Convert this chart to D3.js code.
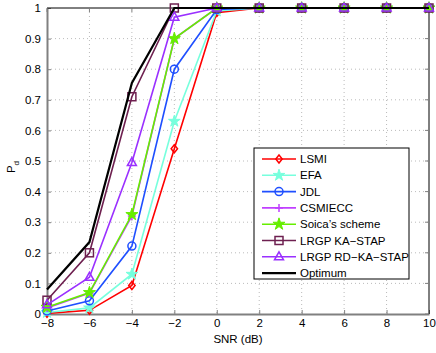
<!DOCTYPE html>
<html><head><meta charset="utf-8">
<script src="https://cdn.jsdelivr.net/npm/d3@7"></script>
<style>body{margin:0;background:#fff}svg{display:block;font-family:"Liberation Sans",Arial,sans-serif}</style>
</head><body><svg id="c" width="436" height="353"></svg>
<script>
const snr = [-8,-6,-4,-2,0,2,4,6,8,10];
const lsmi    = [0.002,0.012,0.093,0.54,0.985,1,1,1,1,1];
const efa     = [0.005,0.02,0.13,0.63,0.99,1,1,1,1,1];
const jdl     = [0.01,0.043,0.222,0.80,0.995,1,1,1,1,1];
const csmiecc = [0.02,0.068,0.32,0.90,1,1,1,1,1,1];
const soica   = [0.022,0.07,0.325,0.90,1,1,1,1,1,1];
const lrgpKa  = [0.045,0.20,0.71,1.0,1,1,1,1,1,1];
const lrgpRd  = [0.03,0.12,0.495,0.97,1,1,1,1,1,1];
const optimum = [0.08,0.235,0.755,1.0,1,1,1,1,1,1];
const xTicks = [-8,-6,-4,-2,0,2,4,6,8,10];
const yTicks = [0,0.1,0.2,0.3,0.4,0.5,0.6,0.7,0.8,0.9,1];

const series = [
  {name:"LSMI", v:lsmi, color:"#ff0000", m:"diamond"},
  {name:"EFA", v:efa, color:"#77ffdd", m:"star"},
  {name:"JDL", v:jdl, color:"#1f4fff", m:"circle"},
  {name:"CSMIECC", v:csmiecc, color:"#c040ff", m:"plus"},
  {name:"Soica\u2019s scheme", v:soica, color:"#66ee00", m:"hex"},
  {name:"LRGP KA\u2212STAP", v:lrgpKa, color:"#6e2050", m:"square"},
  {name:"LRGP RD\u2212KA\u2212STAP", v:lrgpRd, color:"#9a30ff", m:"triangle"},
  {name:"Optimum", v:optimum, color:"#000000", m:null}
];

const svg = d3.select("#c");
const L=47, R=429, T=8, B=314;
const x = d3.scaleLinear().domain([-8,10]).range([L,R]);
const y = d3.scaleLinear().domain([0,1]).range([B,T]);

const g = svg.append("g");
xTicks.forEach(t=>{ if(t>-8&&t<10) g.append("line").attr("x1",x(t)).attr("x2",x(t)).attr("y1",T).attr("y2",B)
  .attr("stroke","#aaa").attr("stroke-width",0.8).attr("stroke-dasharray","1,3");});
yTicks.forEach(t=>{ if(t>0&&t<1) g.append("line").attr("x1",L).attr("x2",R).attr("y1",y(t)).attr("y2",y(t))
  .attr("stroke","#aaa").attr("stroke-width",0.8).attr("stroke-dasharray","1,3");});

const xa = svg.append("g").attr("transform",`translate(0,${B})`)
  .call(d3.axisBottom(x).tickValues(xTicks).tickSizeInner(-4).tickSizeOuter(0).tickPadding(5).tickFormat(d=>String(d).replace("-","\u2212")));
const ya = svg.append("g").attr("transform",`translate(${L},0)`)
  .call(d3.axisLeft(y).tickValues(yTicks).tickSizeInner(-4).tickSizeOuter(0).tickPadding(6).tickFormat(d=>d===0?"0":d===1?"1":d3.format(".1f")(d)));
[xa,ya].forEach(a=>{a.select(".domain").attr("stroke","#808080").attr("stroke-width",2);
  a.selectAll(".tick line").attr("stroke","#808080");
  a.selectAll("text").attr("font-size",11.5).attr("fill","#000").attr("font-family","Liberation Sans, Arial, sans-serif");});
svg.append("line").attr("x1",L).attr("x2",R).attr("y1",T).attr("y2",T).attr("stroke","#000").attr("stroke-width",1);
svg.append("line").attr("x1",R).attr("x2",R).attr("y1",T).attr("y2",B).attr("stroke","#000").attr("stroke-width",1);
yTicks.forEach(t=>svg.append("line").attr("x1",R-4).attr("x2",R).attr("y1",y(t)).attr("y2",y(t)).attr("stroke","#808080"));
xTicks.forEach(t=>svg.append("line").attr("x1",x(t)).attr("x2",x(t)).attr("y1",T).attr("y2",T+4).attr("stroke","#808080"));

function marker(sel, type, color, cx, cy){
  const s = 4;
  if(type==="diamond") sel.append("path").attr("d",`M${cx},${cy-s}L${cx+s*0.8},${cy}L${cx},${cy+s}L${cx-s*0.8},${cy}Z`).attr("fill","none").attr("stroke",color).attr("stroke-width",1.5);
  else if(type==="circle") sel.append("circle").attr("cx",cx).attr("cy",cy).attr("r",s).attr("fill","none").attr("stroke",color).attr("stroke-width",1.5);
  else if(type==="square") sel.append("rect").attr("x",cx-s).attr("y",cy-s).attr("width",2*s).attr("height",2*s).attr("fill","none").attr("stroke",color).attr("stroke-width",1.5);
  else if(type==="triangle") sel.append("path").attr("d",`M${cx},${cy-s-1}L${cx+s+0.5},${cy+s-1}L${cx-s-0.5},${cy+s-1}Z`).attr("fill","none").attr("stroke",color).attr("stroke-width",1.5);
  else if(type==="plus") sel.append("path").attr("d",`M${cx-s},${cy}H${cx+s}M${cx},${cy-s}V${cy+s}`).attr("stroke",color).attr("stroke-width",1.5);
  else if(type==="star"||type==="hex"){
    const sym = d3.symbol().type(d3.symbolStar).size(type==="star"?42:45);
    sel.append("path").attr("transform",`translate(${cx},${cy})`).attr("d",sym()).attr("fill",color).attr("stroke",color).attr("stroke-width",1);
  }
}

const line = d3.line().x((d,i)=>x(snr[i])).y(d=>y(d));
const plot = svg.append("g");
series.forEach(s=>{
  const gg = plot.append("g");
  gg.append("path").datum(s.v).attr("d",line).attr("fill","none").attr("stroke",s.color).attr("stroke-width",s.m?1.6:2.2);
  if(s.m) s.v.forEach((v,i)=>marker(gg,s.m,s.color,x(snr[i]),y(v)));
});

const lg = svg.append("g");
const lx=254, ly=148, lw=155, lh=131;
lg.append("rect").attr("x",lx).attr("y",ly).attr("width",lw).attr("height",lh).attr("fill","#fff").attr("stroke","#000").attr("stroke-width",1);
series.forEach((s,i)=>{
  const yy = ly+11+i*16.3;
  lg.append("line").attr("x1",lx+8).attr("x2",lx+42).attr("y1",yy).attr("y2",yy).attr("stroke",s.color).attr("stroke-width",s.m?1.6:2.2);
  if(s.m) marker(lg,s.m,s.color,lx+25,yy);
  lg.append("text").attr("x",lx+46).attr("y",yy+4).attr("font-size",11.5).text(s.name);
});

svg.append("text").attr("x",238).attr("y",343).attr("text-anchor","middle").attr("font-size",11.5).text("SNR (dB)");
const yl = svg.append("text").attr("transform","translate(15,167) rotate(-90)").attr("text-anchor","middle").attr("font-size",11.5);
yl.append("tspan").text("P");
yl.append("tspan").attr("font-size",8).attr("dy",4).text("d");
</script></body></html>
